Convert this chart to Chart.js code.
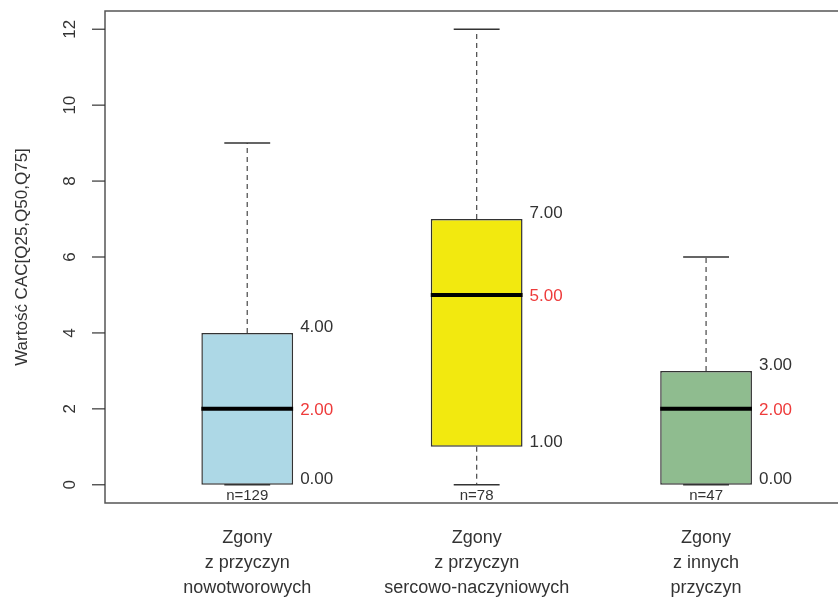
<!DOCTYPE html>
<html lang="pl">
<head>
    <meta charset="UTF-8">
    <title>Wartość CAC</title>
    <script src="https://cdn.jsdelivr.net/npm/chart.js"></script>
    <style>
        html, body { margin: 0; padding: 0; background: #fff; overflow: hidden; }
    </style>
</head>
<body>
    <canvas id="cacChart" width="838" height="598"></canvas>

    <script>
        // dane
        const categories = [
            ['Zgony', 'z przyczyn', 'nowotworowych'],
            ['Zgony', 'z przyczyn', 'sercowo-naczyniowych'],
            ['Zgony', 'z innych', 'przyczyn']
        ];
        const q25 = [0, 1, 0];
        const q50 = [2, 5, 2];
        const q75 = [4, 7, 3];
        const whiskerLow = [0, 0, 0];
        const whiskerHigh = [9, 12, 6];
        const counts = [129, 78, 47];
        const fills = ['#add8e6', '#f2e90f', '#8fbc8f'];
        const yTicks = [0, 2, 4, 6, 8, 10, 12];

        const FONT = '"Liberation Sans", Arial, sans-serif';
        const TEXT = '#333333';
        const RED = '#ee3b3b';

        const boxExtras = {
            id: 'boxExtras',
            afterDatasetsDraw(chart) {
                const ctx = chart.ctx;
                const x = chart.scales.x, y = chart.scales.y;
                const capHalf = (x.getPixelForValue(1.1) - x.getPixelForValue(1));
                const boxHalf = (x.getPixelForValue(1.2) - x.getPixelForValue(1));

                ctx.save();
                for (let i = 0; i < q50.length; i++) {
                    const cx = x.getPixelForValue(i + 1);
                    // whiskers (dashed)
                    ctx.strokeStyle = '#555555';
                    ctx.lineWidth = 1.3;
                    ctx.setLineDash([5, 4]);
                    ctx.beginPath();
                    ctx.moveTo(cx, y.getPixelForValue(q75[i]));
                    ctx.lineTo(cx, y.getPixelForValue(whiskerHigh[i]));
                    if (q25[i] > whiskerLow[i]) {
                        ctx.moveTo(cx, y.getPixelForValue(q25[i]));
                        ctx.lineTo(cx, y.getPixelForValue(whiskerLow[i]));
                    }
                    ctx.stroke();
                    ctx.setLineDash([]);

                    // caps
                    ctx.strokeStyle = '#333333';
                    ctx.lineWidth = 1.5;
                    ctx.beginPath();
                    [whiskerHigh[i], whiskerLow[i]].forEach(v => {
                        const py = y.getPixelForValue(v);
                        ctx.moveTo(cx - capHalf, py);
                        ctx.lineTo(cx + capHalf, py);
                    });
                    ctx.stroke();

                    // median
                    ctx.strokeStyle = '#000000';
                    ctx.lineWidth = 4;
                    ctx.beginPath();
                    const my = y.getPixelForValue(q50[i]);
                    ctx.moveTo(cx - boxHalf, my);
                    ctx.lineTo(cx + boxHalf, my);
                    ctx.stroke();

                    // value labels
                    const lx = cx + boxHalf + 7;
                    ctx.font = '17px ' + FONT;
                    ctx.textAlign = 'left';
                    ctx.textBaseline = 'middle';
                    ctx.fillStyle = TEXT;
                    ctx.fillText(q75[i].toFixed(2), lx, y.getPixelForValue(q75[i]) - 6);
                    ctx.fillText(q25[i].toFixed(2), lx, y.getPixelForValue(q25[i]) - 5);
                    ctx.fillStyle = RED;
                    ctx.fillText(q50[i].toFixed(2), lx, my + 1);

                    // n labels
                    ctx.fillStyle = TEXT;
                    ctx.font = '15px ' + FONT;
                    ctx.textAlign = 'center';
                    ctx.fillText('n=' + counts[i], cx, y.getPixelForValue(whiskerLow[i]) + 11);

                    // category labels
                    ctx.font = '18px ' + FONT;
                    ctx.textBaseline = 'alphabetic';
                    categories[i].forEach((line, k) => {
                        ctx.fillText(line, cx, 543 + k * 25);
                    });
                }
                ctx.restore();
            },
            afterDraw(chart) {
                const ctx = chart.ctx;
                const area = chart.chartArea;
                const y = chart.scales.y;
                ctx.save();
                // frame (right side falls outside the picture)
                ctx.strokeStyle = '#555555';
                ctx.lineWidth = 1.5;
                ctx.beginPath();
                ctx.moveTo(chart.width + 5, area.top);
                ctx.lineTo(area.left, area.top);
                ctx.lineTo(area.left, area.bottom);
                ctx.lineTo(chart.width + 5, area.bottom);
                ctx.stroke();

                // y ticks
                ctx.strokeStyle = '#333333';
                ctx.lineWidth = 1.2;
                ctx.fillStyle = TEXT;
                ctx.font = '17px ' + FONT;
                ctx.textAlign = 'center';
                ctx.textBaseline = 'middle';
                yTicks.forEach(t => {
                    const py = y.getPixelForValue(t);
                    ctx.beginPath();
                    ctx.moveTo(area.left - 13, py);
                    ctx.lineTo(area.left, py);
                    ctx.stroke();
                    ctx.save();
                    ctx.translate(area.left - 35, py);
                    ctx.rotate(-Math.PI / 2);
                    ctx.fillText(String(t), 0, 0);
                    ctx.restore();
                });

                // axis title
                ctx.save();
                ctx.translate(22, (area.top + area.bottom) / 2);
                ctx.rotate(-Math.PI / 2);
                ctx.font = '17px ' + FONT;
                ctx.fillText('Wartość CAC[Q25,Q50,Q75]', 0, 0);
                ctx.restore();
                ctx.restore();
            }
        };

        new Chart(document.getElementById('cacChart').getContext('2d'), {
            type: 'bar',
            data: {
                datasets: [{
                    data: q25.map((v, i) => ({ x: i + 1, y: [v, q75[i]] })),
                    backgroundColor: fills,
                    borderColor: '#333333',
                    borderWidth: 1.5,
                    borderSkipped: false,
                    categoryPercentage: 1,
                    barPercentage: 0.4
                }]
            },
            options: {
                responsive: false,
                animation: false,
                layout: { padding: { left: 105, top: 11, right: 0, bottom: 95 } },
                plugins: { legend: { display: false }, tooltip: { enabled: false } },
                scales: {
                    x: {
                        type: 'linear', min: 0.38, max: 3.575, offset: false, display: false,
                        afterBuildTicks: scale => { scale.ticks = [1, 2, 3].map(v => ({ value: v })); }
                    },
                    y: { type: 'linear', min: -0.48, max: 12.48, display: false }
                }
            },
            plugins: [boxExtras]
        });
    </script>
</body>
</html>
